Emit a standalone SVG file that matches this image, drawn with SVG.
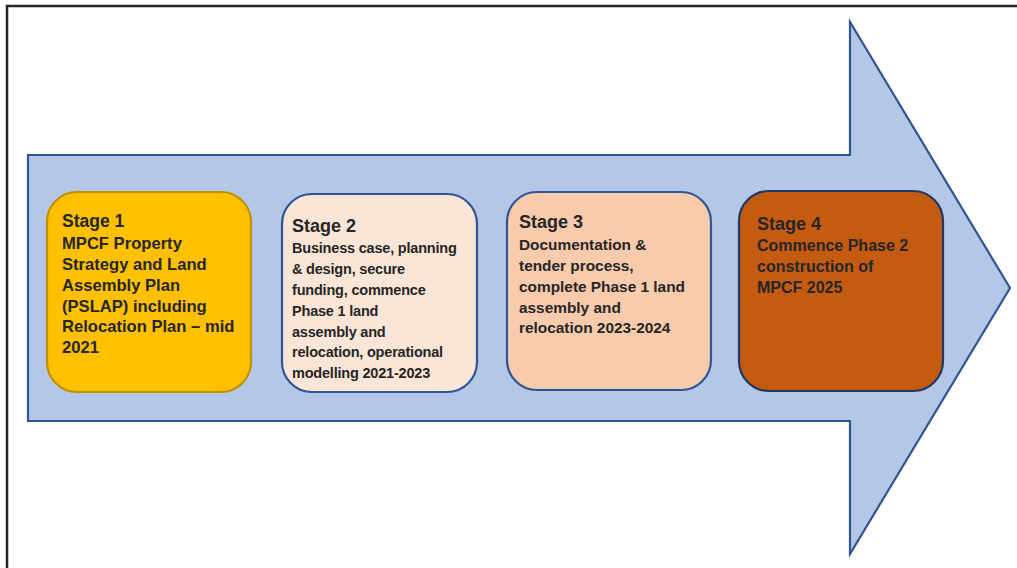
<svg xmlns="http://www.w3.org/2000/svg" width="1017" height="568" viewBox="0 0 1017 568">
<style>
.t{font-family:"Liberation Sans",Arial,sans-serif;font-weight:bold;fill:#262626}
.h{font-size:18px}
.box{stroke-width:2.2}
</style>
<rect width="1017" height="568" fill="#ffffff"/>
<rect x="7" y="6" width="1030" height="600" fill="none" stroke="#262626" stroke-width="2.5"/>
<g id="connectors">
<polygon points="28,155 850,155 850,22 1010,288 850,554 850,421 28,421" fill="#B4C7E7" stroke="#2F5597" stroke-width="2.2" stroke-linejoin="miter"/>
</g>
<g id="stage1">
<rect class="box" x="47" y="192" width="204" height="200" rx="30" fill="#FFC000" stroke="#BF9000"/>
<text class="t h" x="62" y="227" style="font-size:17.5px">Stage 1</text>
<text class="t" x="62" y="249" font-size="16.6">
<tspan x="62" y="249">MPCF Property</tspan>
<tspan x="62" y="270">Strategy and Land</tspan>
<tspan x="62" y="290.5">Assembly Plan</tspan>
<tspan x="62" y="311.5">(PSLAP) including</tspan>
<tspan x="62" y="332">Relocation Plan – mid</tspan>
<tspan x="62" y="352.5">2021</tspan>
</text>
</g>
<g id="stage2">
<rect class="box" x="282" y="194" width="195" height="198" rx="30" fill="#FBE5D6" stroke="#2F5597"/>
<text class="t h" x="292" y="232">Stage 2</text>
<text class="t" font-size="14.5" letter-spacing="-0.2">
<tspan x="292" y="253">Business case, planning</tspan>
<tspan x="292" y="274">&amp; design, secure</tspan>
<tspan x="292" y="295">funding, commence</tspan>
<tspan x="292" y="315.5">Phase 1 land</tspan>
<tspan x="292" y="336.5">assembly and</tspan>
<tspan x="292" y="357">relocation, operational</tspan>
<tspan x="292" y="378">modelling 2021-2023</tspan>
</text>
</g>
<g id="stage3">
<rect class="box" x="507" y="192" width="204" height="198" rx="30" fill="#F8CBAD" stroke="#2F5597"/>
<text class="t h" x="519" y="228">Stage 3</text>
<text class="t" font-size="15.4">
<tspan x="519" y="250">Documentation &amp;</tspan>
<tspan x="519" y="271">tender process,</tspan>
<tspan x="519" y="291.5">complete Phase 1 land</tspan>
<tspan x="519" y="312.5">assembly and</tspan>
<tspan x="519" y="333">relocation 2023-2024</tspan>
</text>
</g>
<g id="stage4">
<rect class="box" x="739" y="191" width="204" height="200" rx="30" fill="#C55A11" stroke="#203864"/>
<text class="t h" x="757" y="230">Stage 4</text>
<text class="t" font-size="16">
<tspan x="757" y="251">Commence Phase 2</tspan>
<tspan x="757" y="272">construction of</tspan>
<tspan x="757" y="292.5">MPCF 2025</tspan>
</text>
</g>
</svg>
